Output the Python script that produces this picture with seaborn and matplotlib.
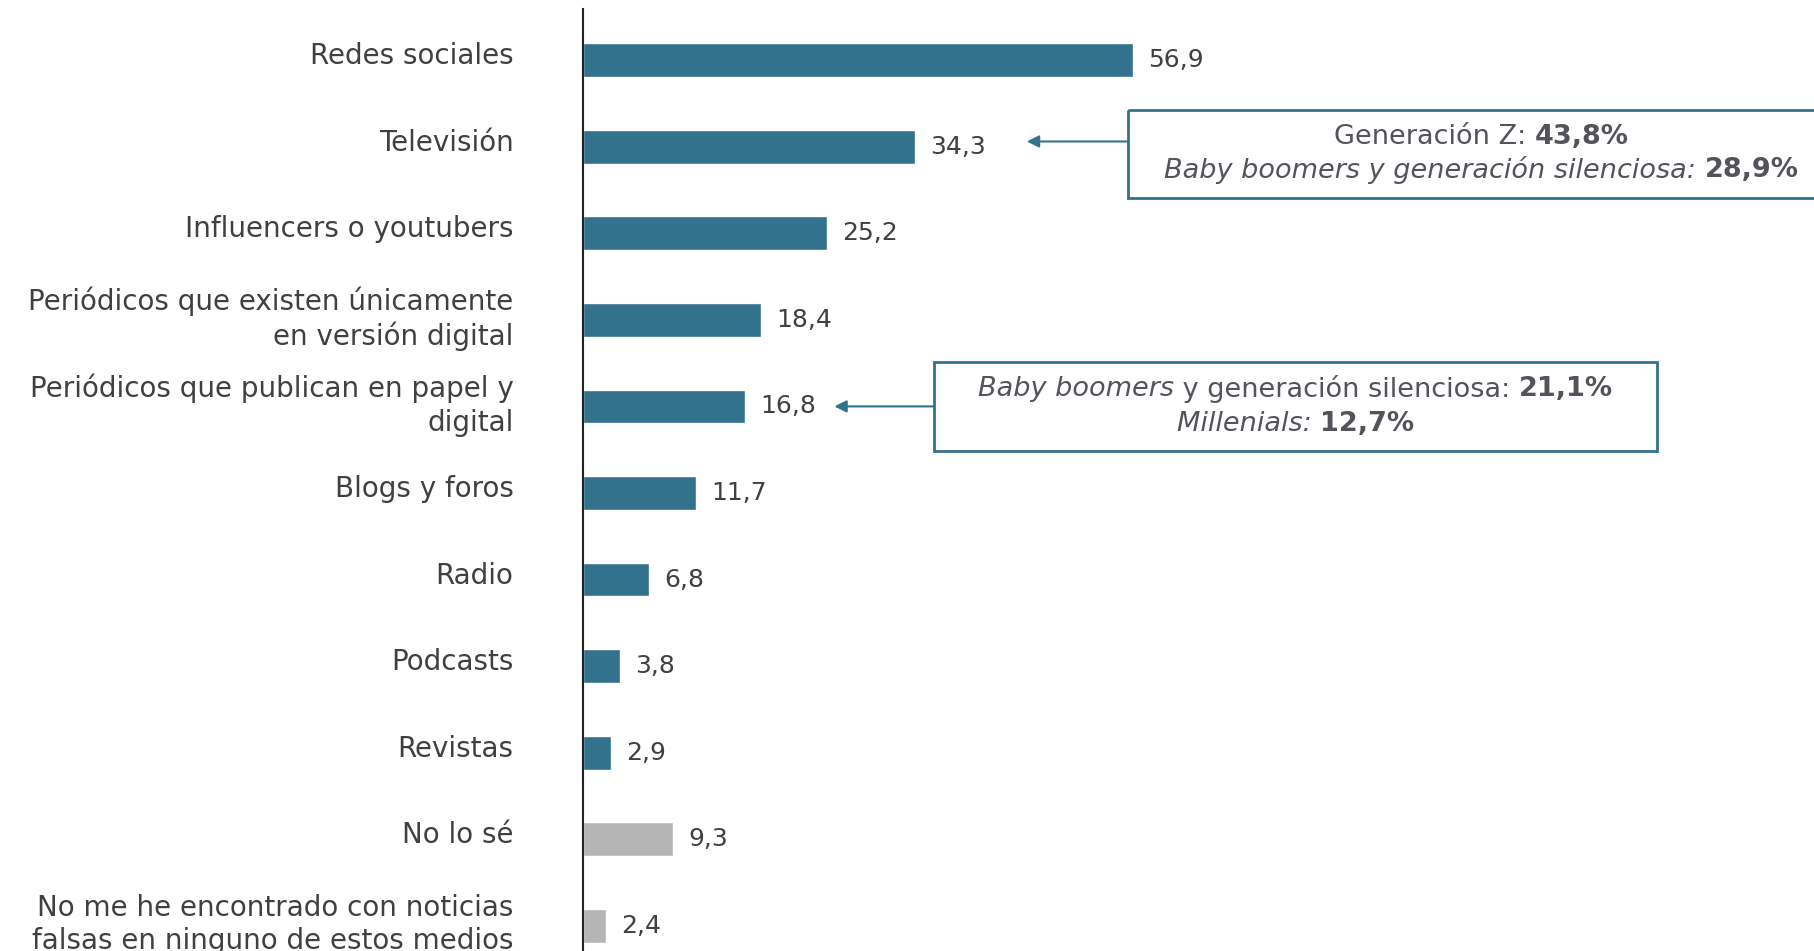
import matplotlib
matplotlib.use("Agg")
import matplotlib.pyplot as plt
import seaborn as sns
import pandas as pd
from matplotlib.patches import Rectangle
from matplotlib.transforms import ScaledTranslation

categories = [
    "Redes sociales",
    "Televisión",
    "Influencers o youtubers",
    "Periódicos que existen únicamente\nen versión digital",
    "Periódicos que publican en papel y\ndigital",
    "Blogs y foros",
    "Radio",
    "Podcasts",
    "Revistas",
    "No lo sé",
    "No me he encontrado con noticias\nfalsas en ninguno de estos medios",
]
values = [56.9, 34.3, 25.2, 18.4, 16.8, 11.7, 6.8, 3.8, 2.9, 9.3, 2.4]
value_labels = ["56,9", "34,3", "25,2", "18,4", "16,8", "11,7", "6,8", "3,8", "2,9", "9,3", "2,4"]
bar_colors = ["#33728C"] * 9 + ["#B5B5B5"] * 2

# annotation contents: list of lines, each a list of (text, style, weight)
note1_lines = [
    [("Generación Z: ", "normal", "normal"), ("43,8%", "normal", "bold")],
    [("Baby boomers y generación silenciosa: ", "italic", "normal"), ("28,9%", "normal", "bold")],
]
note2_lines = [
    [("Baby boomers", "italic", "normal"), (" y generación silenciosa: ", "normal", "normal"), ("21,1%", "normal", "bold")],
    [("Millenials: ", "italic", "normal"), ("12,7%", "normal", "bold")],
]

sns.set_style("white")
plt.rcParams["font.family"] = ["DejaVu Sans"]

TEXT = "#404040"
NOTE_TEXT = "#56525C"
TEAL = "#33728C"
FS_LABEL = 20
FS_VALUE = 18
FS_NOTE = 19.5

fig = plt.figure(figsize=(18.14, 9.51), dpi=100)
ax = fig.add_axes([583 / 1814, 0.0, 1 - 583 / 1814, 1 - 9 / 951])

df = pd.DataFrame({"cat": categories, "val": values})
sns.barplot(data=df, x="val", y="cat", hue="cat", palette=bar_colors,
            legend=False, width=0.39, ax=ax, saturation=1, orient="h")

ax.set_xlim(0, 127.3)
ax.set_ylim(10.29, -0.59)
ax.set_xlabel("")
ax.set_ylabel("")
ax.set_xticks([])
for s in ["top", "right", "bottom"]:
    ax.spines[s].set_visible(False)
ax.spines["left"].set_color("#222222")
ax.spines["left"].set_linewidth(1.5)

ax.tick_params(axis="y", length=0, pad=50)
ax.set_yticks(range(len(categories)))
ax.set_yticklabels(categories, fontsize=FS_LABEL, color=TEXT, linespacing=1.25)
for lab in ax.get_yticklabels():
    lab.set_transform(lab.get_transform() + ScaledTranslation(0, 7 / 100, fig.dpi_scale_trans))

for i, (v, t) in enumerate(zip(values, value_labels)):
    ax.annotate(t, (v, i), xytext=(11, 0), textcoords="offset points",
                va="center", ha="left", fontsize=FS_VALUE, color=TEXT)

fig.canvas.draw()
renderer = fig.canvas.get_renderer()


def draw_line(segments, xc, y):
    texts = []
    for txt, style, weight in segments:
        texts.append(ax.text(xc, y, txt, fontsize=FS_NOTE, style=style, weight=weight,
                             color=NOTE_TEXT, va="center", ha="left"))
    widths = [t.get_window_extent(renderer).width for t in texts]
    total = sum(widths)
    start = -total / 2
    for t, w in zip(texts, widths):
        t.set_transform(ax.transData + ScaledTranslation(start / 100, 0, fig.dpi_scale_trans))
        start += w


def note(lines, box_x0, box_x1, box_y0, box_y1, xc, ys, arrow_tip, arrow_y):
    rect = Rectangle((box_x0, box_y0), box_x1 - box_x0, box_y1 - box_y0,
                     fill=False, edgecolor=TEAL, linewidth=2, clip_on=True)
    ax.add_patch(rect)
    for seg, y in zip(lines, ys):
        draw_line(seg, xc, y)
    ax.annotate("", xy=(arrow_tip, arrow_y), xytext=(box_x0, arrow_y),
                arrowprops=dict(arrowstyle="-|>", color=TEAL, lw=1.5,
                                mutation_scale=18, shrinkA=0, shrinkB=0))


note(note1_lines, 56.4, 129.4, 0.578, 1.595, 92.9, [0.885, 1.27], 45.9, 0.94)
note(note2_lines, 36.3, 111.1, 3.49, 4.51, 73.7, [3.80, 4.20], 26.0, 4.0)

fig.savefig("out.png", dpi=100)
